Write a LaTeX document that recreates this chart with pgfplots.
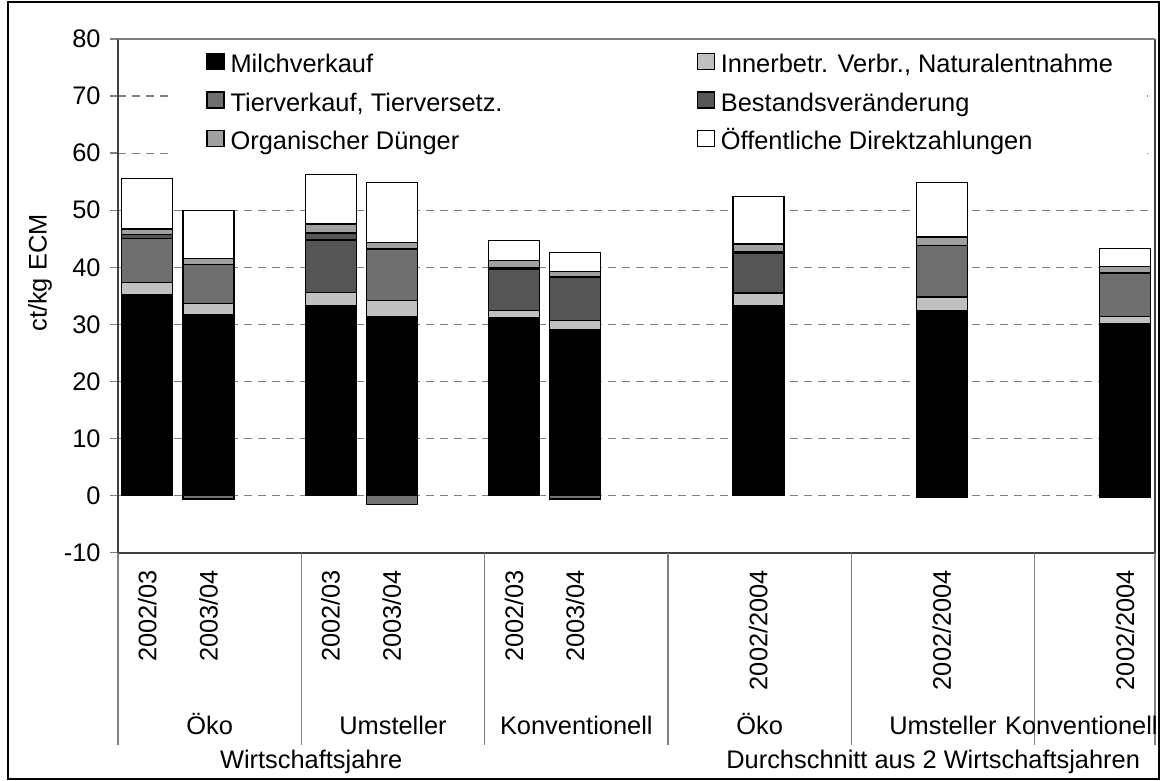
\documentclass[border=0pt]{standalone}
\usepackage{fontspec}
\setmainfont{Liberation Sans}
\usepackage{pgfplots}
\pgfplotsset{compat=1.18}
\usepackage{pgfplotstable}

\definecolor{cInner}{HTML}{C0C0C0}
\definecolor{cTier}{HTML}{6E6E6E}
\definecolor{cTierB}{HTML}{555555}
\definecolor{cBest}{HTML}{555555}
\definecolor{cOrg}{HTML}{A0A0A0}
\definecolor{cNeg}{HTML}{737373}
\definecolor{axisdark}{HTML}{404040}
\definecolor{gridgray}{HTML}{808080}

\pgfplotstableread{
x     milch inner tierA tierB best organ oeff
0.48  35.2  2.1   7.7   0     0.7  1.0   8.8
1.48  31.8  1.9   6.8   0     0    1.0   8.4
3.48  33.3  2.3   0     9.2   1.2  1.6   8.6
4.48  31.4  2.8   9.0   0     0    1.1   10.5
6.48  31.2  1.2   0     7.3   0.3  1.2   3.5
7.48  29.1  1.6   0     7.6   0    1.0   3.3
10.48 33.3  2.2   0     7.0   0.3  1.3   8.3
13.48 32.5  2.3   9.0   0     0    1.5   9.5
16.48 30.1  1.3   7.6   0     0    1.1   3.2
}\datatable

\pgfplotstableread{
x     neg
1.48  -0.6
4.48  -1.5
7.48  -0.6
13.48 -0.25
16.48 -0.25
}\negtable

\begin{document}
\fontsize{12.7}{15.2}\selectfont
\begin{tikzpicture}[font=\fontsize{12.7}{15.2}\selectfont]
\path[use as bounding box] (0,0) rectangle (583.5pt,390.5pt);
\begin{axis}[
  scale only axis, width=518.5pt, height=256.85pt,
  at={(59pt,114.15pt)}, anchor=south west,
  ybar stacked, bar width=25.5pt,
  xmin=0, xmax=16.97, ymin=-10, ymax=80,
  ytick={-10,0,...,80},
  axis x line*=bottom, axis y line*=left,
  axis line style={draw=axisdark, line width=1pt},
  tick align=outside, major tick length=4pt,
  ytick style={draw=gridgray, line width=0.7pt},
  tick label style={font=\fontsize{12.7}{15.2}\selectfont},
  yticklabel style={inner sep=0pt, xshift=-4.5pt},
  /pgf/number format/assume math mode=true,
  ymajorgrids, grid style={draw=gridgray, line width=0.6pt, dash pattern=on 3.85pt off 3.15pt},
  xtick={0.48,1.48,3.48,4.48,6.48,7.48,10.48,13.48,16.48},
  xticklabels={2002/03,2003/04,2002/03,2003/04,2002/03,2003/04,2002/2004,2002/2004,2002/2004},
  xtick style={draw=none},
  xticklabel style={rotate=90, anchor=east, inner sep=0pt},
  xticklabel shift=4.5pt,
  extra x ticks={0,3,6,9,12,15,16.97},
  extra x tick labels={},
  extra x tick style={grid=none, major tick length=96pt, xtick style={draw=gridgray, line width=0.7pt}},
  clip=false,
  legend columns=2, legend cell align=left,
  legend style={at={(0.05207,0.9897)}, anchor=north west, draw=none, fill=white,
    inner xsep=17pt, inner ysep=4pt, row sep=6.5pt,
    font=\fontsize{12.7}{15.2}\selectfont,
    nodes={inner sep=0pt, text height=9.5pt, text depth=3pt},
    /tikz/every odd column/.append style={column sep=3pt},
    /tikz/every even column/.append style={column sep=97.1pt}},
  legend image code/.code={\draw[#1, line width=0.6pt] (0pt,-1.7pt) rectangle (8.5pt,6.3pt);},
  every axis plot/.append style={draw=black, line width=0.6pt},
]
\addplot[fill=black, draw=black] table[x=x,y=milch]{\datatable};
\addlegendentry{Milchverkauf}
\addplot[fill=cInner] table[x=x,y=inner]{\datatable};
\addlegendentry{Innerbetr. Verbr., Naturalentnahme}
\addplot[fill=cTier] table[x=x,y=tierA]{\datatable};
\addlegendentry{Tierverkauf, Tierversetz.}
\addplot[fill=cTierB, forget plot] table[x=x,y=tierB]{\datatable};
\addplot[fill=cBest] table[x=x,y=best]{\datatable};
\addlegendentry{Bestandsveränderung}
\addplot[fill=cOrg] table[x=x,y=organ]{\datatable};
\addlegendentry{Organischer Dünger}
\addplot[fill=white] table[x=x,y=oeff]{\datatable};
\addlegendentry{Öffentliche Direktzahlungen}

\draw[draw=gridgray, line width=0.7pt] (rel axis cs:0,1) -- (rel axis cs:1,1);
\draw[draw=axisdark, line width=1pt] (rel axis cs:1,0) -- (rel axis cs:1,1);

\node[anchor=base, yshift=-91pt] at (axis cs:1.5,-10) {Öko};
\node[anchor=base, yshift=-91pt] at (axis cs:4.5,-10) {Umsteller};
\node[anchor=base, yshift=-91pt] at (axis cs:7.5,-10) {Konventionell};
\node[anchor=base, yshift=-91pt] at (axis cs:10.5,-10) {Öko};
\node[anchor=base, yshift=-91pt] at (axis cs:13.5,-10) {Umsteller};
\node[anchor=base east, inner sep=0pt, yshift=-91pt, xshift=1.5pt] at (axis cs:16.97,-10) {Konventionell};
\node[anchor=base, yshift=-107.8pt] at (axis cs:3.16,-10) {Wirtschaftsjahre};
\node[anchor=base, yshift=-107.8pt] at (axis cs:13.34,-10) {Durchschnitt aus 2 Wirtschaftsjahren};
\end{axis}
\begin{axis}[
  scale only axis, width=518.5pt, height=256.85pt,
  at={(59pt,114.15pt)}, anchor=south west,
  xmin=0, xmax=16.97, ymin=-10, ymax=80,
  hide axis, ybar, bar width=25.5pt]
\addplot[fill=cNeg, draw=black, line width=0.6pt] table[x=x,y=neg]{\negtable};
\end{axis}
\node[rotate=90] at (20pt,254pt) {ct/kg ECM};
\draw[black, line width=0.75pt] (4pt,1pt) rectangle (579.5pt,389.5pt);
\end{tikzpicture}
\end{document}
